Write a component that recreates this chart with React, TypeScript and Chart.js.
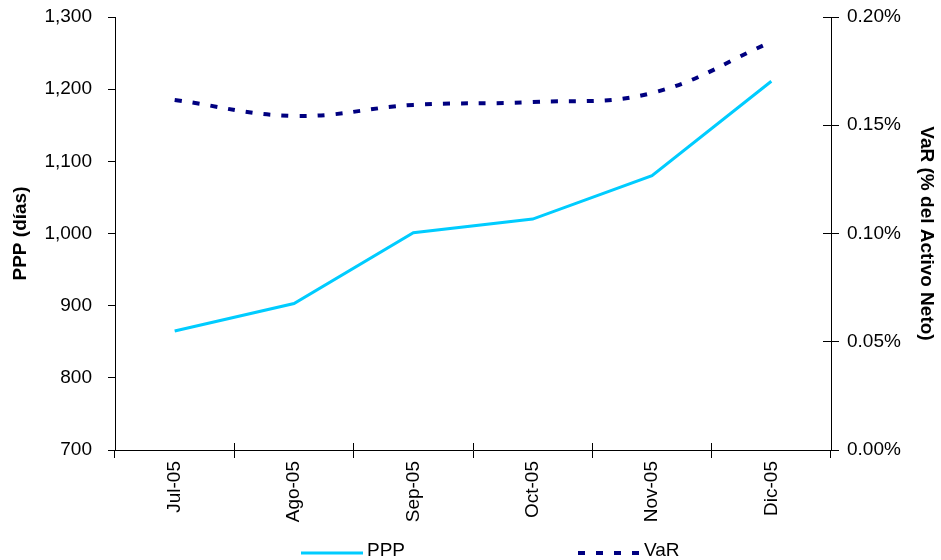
import React, { useEffect, useRef } from 'react';
import { Chart, registerables } from 'chart.js';

Chart.register(...registerables);

const categories = ['Jul-05', 'Ago-05', 'Sep-05', 'Oct-05', 'Nov-05', 'Dic-05'];
const pppValues = [865, 903, 1001, 1020, 1080, 1211];
const varValues = [0.1617, 0.1543, 0.1594, 0.1607, 0.1649, 0.1885];
const leftTickRange = [700, 1300, 100];
const rightTickRange = [0, 0.2, 0.05];

const FONT = "'Liberation Sans', Arial, sans-serif";

const innerTicks = {
  id: 'innerTicks',
  afterDraw(chart: any) {
    const ctx = chart.ctx;
    const x = chart.scales.x;
    const yR = chart.scales.yR;
    ctx.save();
    ctx.strokeStyle = '#000';
    ctx.lineWidth = 1;
    ctx.beginPath();
    const n = x.ticks.length;
    for (let i = 0; i <= n; i++) {
      const px = Math.round(x.left + (i * x.width) / n - 0.5) + 0.5;
      ctx.moveTo(px, x.top - 7);
      ctx.lineTo(px, x.top);
    }
    yR.ticks.forEach((_t: any, i: number) => {
      const py = Math.round(yR.getPixelForTick(i) - 0.5) + 0.5;
      ctx.moveTo(yR.left - 8, py);
      ctx.lineTo(yR.left, py);
    });
    ctx.stroke();
    ctx.restore();
  },
};

const legendPositions = [301, 578];

const customLegend = {
  id: 'customLegend',
  afterDraw(chart: any) {
    const ctx = chart.ctx;
    const y = 551;
    ctx.save();
    chart.data.datasets.forEach((ds: any, i: number) => {
      const x0 = legendPositions[i];
      ctx.beginPath();
      ctx.strokeStyle = ds.borderColor;
      ctx.lineWidth = ds.borderWidth;
      ctx.lineCap = 'butt';
      ctx.setLineDash(ds.borderDash || []);
      ctx.moveTo(x0, y + 2);
      ctx.lineTo(x0 + 62, y + 2);
      ctx.stroke();
      ctx.setLineDash([]);
      ctx.fillStyle = '#000';
      ctx.font = `19px ${FONT}`;
      ctx.textBaseline = 'middle';
      ctx.textAlign = 'left';
      ctx.fillText(ds.label, x0 + 66, y);
    });
    ctx.restore();
  },
};

export default function App() {
  const ref = useRef<HTMLCanvasElement>(null);
  useEffect(() => {
    if (!ref.current) return;
    Chart.defaults.font.family = FONT;
    Chart.defaults.color = '#000';
    const chart = new Chart(ref.current, {
      type: 'line',
      data: {
        labels: categories,
        datasets: [
          {
            label: 'PPP',
            data: pppValues,
            yAxisID: 'yL',
            borderColor: '#00CCFF',
            backgroundColor: '#00CCFF',
            borderWidth: 3,
            pointRadius: 0,
            tension: 0,
          },
          {
            label: 'VaR',
            data: varValues,
            yAxisID: 'yR',
            borderColor: '#000080',
            backgroundColor: '#000080',
            borderWidth: 4,
            borderDash: [7, 11],
            pointRadius: 0,
            tension: 0.4,
          },
        ],
      },
      options: {
        responsive: false,
        animation: false,
        layout: { padding: { top: 17, left: 0, right: 0, bottom: 0 } },
        plugins: { legend: { display: false }, tooltip: { enabled: false } },
        scales: {
          x: {
            type: 'category',
            offset: true,
            grid: { display: true, drawOnChartArea: false, offset: true, tickLength: 8, color: '#000' },
            border: { display: true, color: '#000' },
            ticks: {
              autoSkip: false,
              minRotation: 90,
              maxRotation: 90,
              padding: 3,
              font: { size: 19 },
              color: '#000',
            },
            afterFit: (s: any) => { s.height = 110; },
          },
          yL: {
            position: 'left',
            min: leftTickRange[0],
            max: leftTickRange[1],
            ticks: {
              stepSize: leftTickRange[2],
              padding: 16,
              font: { size: 19 },
              color: '#000',
              callback: (v: any) => Number(v).toLocaleString('en-US'),
            },
            grid: { drawOnChartArea: false, tickLength: 7, color: '#000' },
            border: { display: true, color: '#000' },
            title: {
              display: true,
              text: 'PPP (días)',
              font: { size: 19, weight: 'bold' },
              padding: { top: 9, bottom: 0 },
              color: '#000',
            },
            afterFit: (s: any) => { s.width = 115; s.paddingTop = 0; s.paddingBottom = 0; },
          },
          yR: {
            position: 'right',
            min: rightTickRange[0],
            max: rightTickRange[1],
            ticks: {
              stepSize: rightTickRange[2],
              padding: 8,
              font: { size: 19 },
              color: '#000',
              callback: (v: any) => Number(v).toFixed(2) + '%',
            },
            grid: { drawOnChartArea: false, tickLength: 8, color: '#000' },
            border: { display: true, color: '#000' },
            title: {
              display: true,
              text: 'VaR (% del Activo Neto)',
              font: { size: 19, weight: 'bold' },
              padding: { top: 3, bottom: 0 },
              color: '#000',
            },
            afterFit: (s: any) => { s.width = 110; s.paddingTop = 0; s.paddingBottom = 0; },
          },
        },
      },
      plugins: [innerTicks, customLegend],
    });
    return () => chart.destroy();
  }, []);
  return (
    <div style={{ position: 'fixed', left: 0, top: 0, width: 941, height: 560, background: '#fff' }}>
      <canvas ref={ref} width={941} height={560} style={{ display: 'block' }} />
    </div>
  );
}
